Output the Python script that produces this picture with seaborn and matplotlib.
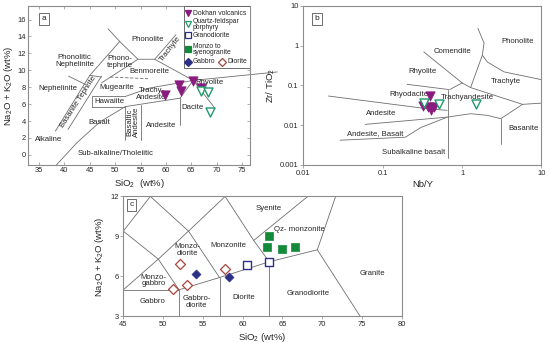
import numpy as np
import matplotlib
matplotlib.use("Agg")
import matplotlib.pyplot as plt
import seaborn as sns
from matplotlib.patches import Rectangle

sns.set_style("ticks")
plt.rcParams['font.family'] = ['Liberation Sans', 'DejaVu Sans']
plt.rcParams['mathtext.fontset'] = 'custom'
plt.rcParams['mathtext.rm'] = 'Liberation Sans'

LINE = '#6e6e6e'
PURPLE = '#8a1a7e'
TEAL = '#1f9a6c'
NAVY = '#2c2f86'
GREEN = '#138a3a'
BROWN = '#a8453c'

# ---------------- panel a : TAS (volcanic) ----------------
a_dok_sio2 = [59.8, 62.6, 62.9, 65.4, 67.0]
a_dok_alk = [7.1, 8.25, 7.5, 8.76, 7.9]
a_qfp_sio2 = [66.9, 68.3, 68.7]
a_qfp_alk = [7.55, 7.47, 5.1]

a_bounds = [
    ([38.4, 42.4, 47.0, 52.0], [-1.2, 1.4, 3.9, 5.7]),      # alkaline / sub-alkaline
    ([52.0, 62.8], [5.7, 6.7]),
    ([52.0, 52.0], [5.7, 1.8]),
    ([55.0, 55.0], [5.95, 1.8]),
    ([62.8, 62.8], [6.7, 3.5]),
    ([62.8, 65.4], [6.7, 8.8]),
    ([65.4, 69.7], [8.8, 5.5]),
    ([45.5, 45.5, 52.0], [5.7, 6.9, 6.9]),
    ([45.5, 52.0], [5.7, 5.7]),
    ([52.0, 56.8, 65.4], [6.9, 7.9, 8.8]),
    ([57.8, 65.4], [11.3, 8.8]),
    ([38.2, 45.0], [2.8, 9.4]),
    ([40.7, 47.3], [3.0, 9.3]),
    ([45.0, 47.3], [9.4, 9.2]),
    ([45.0, 50.9], [9.4, 13.4]),
    ([48.6, 50.9, 54.5, 57.8, 62.0], [14.9, 13.4, 11.3, 11.3, 14.2]),
    ([47.3, 54.5], [8.5, 11.3]),
    ([40.8, 44.2], [9.3, 8.3]),
]
a_dashed = ([49.0, 56.5], [9.2, 9.0])
a_outer = ([65.4, 82.0], [8.8, 9.8])

a_labels = [
    ("Phonolite", 56.5, 13.6, 0), ("Phonolitic\nNephelinite", 42.0, 11.1, 0),
    ("Phono-\ntephrite", 50.9, 11.0, 0), ("Trachyte", 60.8, 12.5, 52),
    ("Benmoreite", 56.8, 9.9, 0), ("Nephelinite", 38.7, 7.9, 0),
    ("Mugearite", 50.3, 7.95, 0), ("Hawaiite", 48.9, 6.3, 0),
    ("Trachy-\nAndesite", 57.2, 7.2, 0), ("Rhyolite", 68.7, 8.6, 0),
    ("Dacite", 65.2, 5.6, 0), ("Basanite Tephrite", 42.7, 6.3, 57),
    ("Basalt", 46.8, 3.8, 0), ("Basaltic\nAndesite", 53.5, 3.9, 90),
    ("Andesite", 59.0, 3.5, 0), ("Alkaline", 36.8, 1.8, 0),
    ("Sub-alkaline/Tholeiitic", 50.1, 0.2, 0),
]

# ---------------- panel b : Zr/TiO2 vs Nb/Y ----------------
b_dok_nby = [0.392, 0.323, 0.37, 0.44, 0.40]
b_dok_zr = [0.0534, 0.030, 0.0285, 0.0295, 0.0237]
b_qfp_nby = [0.329, 0.51, 1.48]
b_qfp_zr = [0.036, 0.0335, 0.0344]

b_bounds = [
    ([0.329, 1.0], [0.70, 0.116]),
    ([1.0, 0.70], [0.116, 0.079]),
    ([0.66, 0.66], [0.079, 0.0015]),
    ([0.203, 0.68], [0.107, 0.079]),
    ([0.0207, 0.363, 0.65], [0.0543, 0.026, 0.0237]),
    ([0.06, 0.65, 1.28, 2.08, 3.07, 5.77, 10.0], [0.0105, 0.016, 0.0195, 0.0177, 0.0146, 0.0335, 0.036]),
    ([3.07, 3.07], [0.0146, 0.0034]),
    ([0.029, 0.193, 0.30, 0.65], [0.0042, 0.005, 0.0087, 0.016]),
    ([1.0, 1.28, 5.77], [0.116, 0.0885, 0.0335]),
    ([1.58, 1.89, 1.80, 1.28], [2.74, 1.18, 0.58, 0.0885]),
    ([1.80, 2.08, 3.37, 10.0], [0.58, 0.39, 0.22, 0.14]),
]
b_labels = [
    ("Phonolite", 4.99, 1.25), ("Comendite", 0.75, 0.70), ("Rhyolite", 0.32, 0.23),
    ("Trachyte", 3.55, 0.123), ("Rhyodacite", 0.212, 0.059), ("Trachyandesite", 1.16, 0.051),
    ("Andesite", 0.096, 0.0195), ("Andesite, Basalt", 0.0805, 0.0061),
    ("Basanite", 6.0, 0.0081), ("Subalkaline basalt", 0.245, 0.0021),
]

# ---------------- panel c : TAS (plutonic) ----------------
c_mz_sio2 = [63.35, 63.05, 65.0, 66.6]
c_mz_alk = [9.06, 8.23, 8.06, 8.23]
c_gd_sio2 = [60.5, 63.35]
c_gd_alk = [6.85, 7.1]
c_gb_sio2 = [54.2, 58.3]
c_gb_alk = [6.22, 5.97]
c_di_sio2 = [52.1, 57.8, 53.0, 51.3]
c_di_alk = [6.9, 6.55, 5.34, 5.09]

c_bounds = [
    ([45.0, 52.0], [5.0, 5.0]),
    ([52.0, 52.0], [5.0, 3.0]),
    ([57.1, 57.1], [5.92, 3.0]),
    ([63.35, 63.35], [7.1, 3.0]),
    ([52.0, 57.1, 63.35, 69.4], [5.0, 5.92, 7.1, 8.0]),
    ([69.4, 74.8], [8.0, 3.0]),
    ([69.4, 71.7], [8.0, 12.0]),
    ([45.0, 49.4, 52.0], [5.0, 7.3, 5.0]),
    ([45.0, 49.4], [9.4, 7.3]),
    ([45.0, 48.4], [9.4, 12.0]),
    ([48.4, 53.2], [12.0, 9.4]),
    ([49.4, 53.2, 57.1], [7.3, 9.4, 5.92]),
    ([53.2, 57.8], [9.4, 12.0]),
    ([57.8, 61.4, 63.35], [12.0, 8.7, 7.1]),
    ([61.4, 68.2], [8.7, 12.0]),
]
c_labels = [
    ("Syenite", 63.3, 11.1), ("Qz- monzonite", 67.2, 9.55), ("Monzonite", 58.2, 8.35),
    ("Monzo-\ndiorite", 53.0, 8.0), ("Monzo-\ngabbro", 48.8, 5.7), ("Gabbro", 48.7, 4.1),
    ("Gabbro-\ndiorite", 54.2, 4.1), ("Diorite", 60.2, 4.4), ("Granodiorite", 68.3, 4.75),
    ("Granite", 76.3, 6.2),
]

fig = plt.figure(figsize=(5.5, 3.43), dpi=100)
ax_a = fig.add_axes([0.0509, 0.519, 0.4036, 0.4636])
ax_b = fig.add_axes([0.5515, 0.519, 0.433, 0.4636])
ax_c = fig.add_axes([0.2242, 0.0773, 0.506, 0.35])

FS = 5.6
LAB = 6.8


def style_axes(ax):
    for s in ax.spines.values():
        s.set_color('#8c8c8c')
        s.set_linewidth(0.8)
    ax.tick_params(labelsize=5.4, length=2, width=0.5, color='#8c8c8c', pad=1.5)


def tag(ax, letter, fx, fy):
    ax.text(fx, fy, letter, transform=ax.transAxes, fontsize=6, ha='center', va='center',
            bbox=dict(boxstyle='square,pad=0.3', fc='white', ec='#555555', lw=0.6))


# ---- a ----
for xs, ys in a_bounds:
    ax_a.plot(xs, ys, color=LINE, lw=0.6)
ax_a.plot(*a_dashed, color=LINE, lw=0.6, ls=(0, (4, 2)))
ax_a.plot(*a_outer, color=LINE, lw=0.6, clip_on=False)
for txt, x, y, rot in a_labels:
    ax_a.text(x, y, txt, fontsize=FS, ha='center', va='center', rotation=rot, linespacing=0.9)
sns.scatterplot(x=a_dok_sio2, y=a_dok_alk, marker='v', s=45, color=PURPLE, edgecolor=PURPLE, ax=ax_a, zorder=5)
sns.scatterplot(x=a_qfp_sio2, y=a_qfp_alk, marker='v', s=42, facecolor='white', edgecolor=TEAL,
                linewidth=1.0, ax=ax_a, zorder=5)
ax_a.set_xlim(32.8, 76.6)
ax_a.set_ylim(-1.2, 17.6)
ax_a.set_xticks(range(35, 80, 5))
ax_a.set_yticks(range(0, 18, 2))
ax_a.tick_params(direction='in', top=True, right=True)
ax_a.set_xlabel('SiO$_2$  (wt%)', fontsize=LAB, labelpad=2)
ax_a.set_ylabel('Na$_2$O + K$_2$O (wt%)', fontsize=LAB, labelpad=2)
style_axes(ax_a)
tag(ax_a, 'a', 0.073, 0.92)

# legend box (drawn by hand, two items share the last row)
ax_a.add_patch(Rectangle((0.703, 0.61), 0.297, 0.39, transform=ax_a.transAxes, fc='white',
                         ec='#555555', lw=0.6, zorder=6))
leg = [
    ('v', PURPLE, PURPLE, 0.72, 0.955, 'Dokhan volcanics'),
    ('v', 'white', TEAL, 0.72, 0.885, 'Quartz-feldspar\nporphyry'),
    ('s', 'white', NAVY, 0.72, 0.815, 'Granodiorite'),
    ('s', GREEN, GREEN, 0.72, 0.727, 'Monzo to\nsyenogranite'),
    ('D', NAVY, NAVY, 0.72, 0.648, 'Gabbro'),
    ('D', 'white', BROWN, 0.875, 0.648, 'Diorite'),
]
for m, fc, ec, fx, fy, txt in leg:
    ax_a.plot([fx], [fy], marker=m, ms=5.0 if m != 'D' else 3.6, mfc=fc, mec=ec, mew=0.9,
              transform=ax_a.transAxes, zorder=7, clip_on=False)
    ax_a.text(fx + 0.022, fy, txt, transform=ax_a.transAxes, fontsize=4.9, va='center',
              ha='left', zorder=7, linespacing=0.9)

# ---- b ----
for xs, ys in b_bounds:
    ax_b.plot(xs, ys, color=LINE, lw=0.6)
for txt, x, y in b_labels:
    ax_b.text(x, y, txt, fontsize=FS, ha='center', va='center')
sns.scatterplot(x=b_dok_nby, y=b_dok_zr, marker='v', s=45, color=PURPLE, edgecolor=PURPLE, ax=ax_b, zorder=5)
sns.scatterplot(x=b_qfp_nby, y=b_qfp_zr, marker='v', s=42, facecolor='white', edgecolor=TEAL,
                linewidth=1.0, ax=ax_b, zorder=5)
ax_b.set_xscale('log')
ax_b.set_yscale('log')
ax_b.set_xlim(0.01, 10)
ax_b.set_ylim(0.001, 10)
ax_b.set_xticks([0.01, 0.1, 1, 10], ['0.01', '0.1', '1', '10'])
ax_b.set_yticks([0.001, 0.01, 0.1, 1, 10], ['0.001', '0.01', '0.1', '1', '10'])
ax_b.minorticks_off()
ax_b.set_xlabel('Nb/Y', fontsize=LAB, labelpad=2)
ax_b.set_ylabel('Zr/ TiO$_2$', fontsize=LAB, labelpad=2)
style_axes(ax_b)
tag(ax_b, 'b', 0.058, 0.92)

# ---- c ----
for xs, ys in c_bounds:
    ax_c.plot(xs, ys, color=LINE, lw=0.6)
for txt, x, y in c_labels:
    ax_c.text(x, y, txt, fontsize=FS, ha='center', va='center', linespacing=0.95)
sns.scatterplot(x=c_mz_sio2, y=c_mz_alk, marker='s', s=40, color=GREEN, edgecolor=GREEN, ax=ax_c, zorder=5)
sns.scatterplot(x=c_gd_sio2, y=c_gd_alk, marker='s', s=40, facecolor='white', edgecolor=NAVY,
                linewidth=1.0, ax=ax_c, zorder=5)
sns.scatterplot(x=c_gb_sio2, y=c_gb_alk, marker='D', s=22, color=NAVY, edgecolor=NAVY, ax=ax_c, zorder=5)
sns.scatterplot(x=c_di_sio2, y=c_di_alk, marker='D', s=26, facecolor='white', edgecolor=BROWN,
                linewidth=0.9, ax=ax_c, zorder=5)
ax_c.set_xlim(45, 80)
ax_c.set_ylim(3, 12)
ax_c.set_xticks(range(45, 85, 5))
ax_c.set_yticks([3, 6, 9, 12])
ax_c.set_xlabel('SiO$_2$ (wt%)', fontsize=LAB, labelpad=2)
ax_c.set_ylabel('Na$_2$O + K$_2$O (wt%)', fontsize=LAB, labelpad=3)
style_axes(ax_c)
tag(ax_c, 'c', 0.03, 0.93)

fig.savefig('out.png', dpi=100)
